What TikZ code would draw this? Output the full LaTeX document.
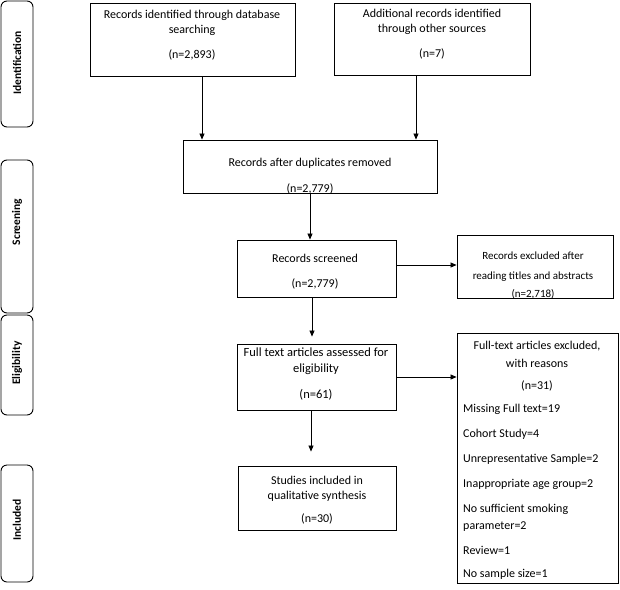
\documentclass[tikz,border=0pt]{standalone}
\usepackage{fontspec}
\setmainfont{Carlito}
\usetikzlibrary{arrows.meta}
\begin{document}
\begin{tikzpicture}[x=1pt,y=-1pt,
  box/.style={draw, line width=0.9pt, inner sep=0pt},
  side/.style={draw, line width=0.9pt, rounded corners=6pt, inner sep=0pt},
  sidetxt/.style={rotate=90, font=\fontsize{11.5}{13}\selectfont\bfseries, inner sep=0pt},
  txt/.style={font=\fontsize{12}{14}\selectfont, inner sep=0pt, anchor=base},
  smalltxt/.style={font=\fontsize{11}{13}\selectfont, inner sep=0pt, anchor=base},
  bigtxt/.style={font=\fontsize{12.5}{14}\selectfont, inner sep=0pt, anchor=base},
  ltxt/.style={font=\fontsize{12}{14}\selectfont, inner sep=0pt, anchor=base west},
  arr/.style={-{Triangle[length=6pt,width=5pt]}, line width=0.7pt}]
\useasboundingbox (0,0) rectangle (620,589);

% side labels
\node[side, minimum width=32, minimum height=126] (s1) at (17,64) {};
\node[side, minimum width=32, minimum height=153] (s2) at (17,236.5) {};
\node[side, minimum width=32, minimum height=100] (s3) at (17,365) {};
\node[side, minimum width=32, minimum height=117] (s4) at (17,523.5) {};
\node[sidetxt] (l1) at (17,63) {Identification};
\node[sidetxt] (l2) at (17,222) {Screening};
\node[sidetxt] (l3) at (17,363) {Eligibility};
\node[sidetxt] (l4) at (17,520) {Included};

% boxes
\node[box, minimum width=205, minimum height=73] (b1) at (192.5,39.5) {};
\node[box, minimum width=196, minimum height=72] (b2) at (432,39) {};
\node[box, minimum width=254, minimum height=53] (b3) at (310,166.5) {};
\node[box, minimum width=159, minimum height=57] (b4) at (316.5,268.5) {};
\node[box, minimum width=156, minimum height=63] (e1) at (535,266.5) {};
\node[box, minimum width=159, minimum height=66] (b5) at (316.5,377) {};
\node[box, minimum width=161, minimum height=250] (e2) at (537.5,458) {};
\node[box, minimum width=158, minimum height=64] (b6) at (317,498) {};

% texts
\node[txt] (t1a) at (192,18) {Records identified through database};
\node[txt] (t1b) at (192,33) {searching};
\node[txt] (t1c) at (192,58) {(n=2,893)};
\node[txt] (t2a) at (432,17) {Additional records identified};
\node[txt] (t2b) at (432,32) {through other sources};
\node[txt] (t2c) at (432,57) {(n=7)};
\node[txt] (t3a) at (310,166) {Records after duplicates removed};
\node[txt] (t3b) at (310,192) {(n=2,779)};
\node[txt] (t4a) at (315,262) {Records screened};
\node[txt] (t4b) at (315,287) {(n=2,779)};
\node[smalltxt] (te1a) at (533,259) {Records excluded after};
\node[smalltxt] (te1b) at (533,279) {reading titles and abstracts};
\node[smalltxt] (te1c) at (533,297) {(n=2,718)};
\node[bigtxt] (t5a) at (316,356) {Full text articles assessed for};
\node[bigtxt] (t5b) at (316,372) {eligibility};
\node[bigtxt] (t5c) at (316,398) {(n=61)};
\node[txt] (t6a) at (317,484) {Studies included in};
\node[txt] (t6b) at (317,499) {qualitative synthesis};
\node[txt] (t6c) at (317,522) {(n=30)};
\node[txt] (te2a) at (537,349) {Full-text articles excluded,};
\node[txt] (te2b) at (537,367) {with reasons};
\node[txt] (te2c) at (537,389) {(n=31)};
\node[ltxt] (te2d) at (463,412) {Missing Full text=19};
\node[ltxt] (te2e) at (463,437) {Cohort Study=4};
\node[ltxt] (te2f) at (463,462) {Unrepresentative Sample=2};
\node[ltxt] (te2g) at (463,487) {Inappropriate age group=2};
\node[ltxt] (te2h) at (463,512) {No sufficient smoking};
\node[ltxt] (te2i) at (463,529) {parameter=2};
\node[ltxt] (te2j) at (463,554) {Review=1};
\node[ltxt] (te2k) at (463,577) {No sample size=1};

% connectors
\draw[arr] ([xshift=9.5pt]b1.south) -- ([xshift=9.5pt]b1.south |- b3.north);
\draw[arr] ([xshift=-16pt]b2.south) -- ([xshift=-16pt]b2.south |- b3.north);
\draw[arr] (b3.south) -- (b3.south |- b4.north);
\draw[arr] ([yshift=3.5pt]b4.east) -- ([yshift=3.5pt]b4.east -| e1.west);
\draw[arr] ([xshift=-4.5pt]b4.south) -- ([xshift=-4.5pt,yshift=7pt]b5.north);
\draw[arr] (b5.east) -- (b5.east -| e2.west);
\draw[arr] ([xshift=-5.5pt]b5.south) -- ([xshift=-6pt,yshift=14pt]b6.north);
\end{tikzpicture}
\end{document}
